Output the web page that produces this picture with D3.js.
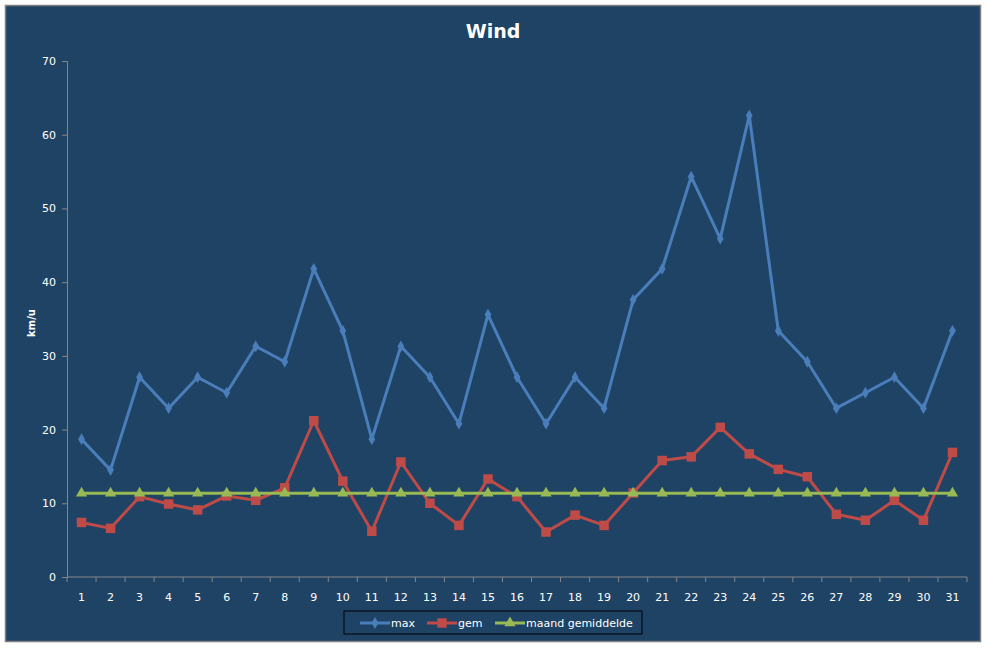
<!DOCTYPE html>
<html>
<head>
<meta charset="utf-8">
<script src="https://cdn.jsdelivr.net/npm/d3@7"></script>
<style>
  body { margin: 0; background: #fff; }
  text { font-family: "DejaVu Sans", Verdana, sans-serif; }
</style>
</head>
<body>
<div id="chart"></div>
<script>
// days of the month
var days = d3.range(1, 32).map(String);
// wind values in km/u
var maxWind = [18.7, 14.5, 27.1, 22.9, 27.1, 25.0, 31.3, 29.2, 41.8, 33.4, 18.7, 31.3, 27.1, 20.8, 35.6, 27.1,
    20.8, 27.1, 22.9, 37.6, 41.8, 54.3, 45.9, 62.6, 33.4, 29.2, 22.9, 25.0, 27.1, 22.9, 33.4];
var gemWind = [7.4, 6.6, 10.9, 9.9, 9.1, 11.0, 10.4, 12.1, 21.2, 13.0, 6.2, 15.6, 10.0, 7.0, 13.3, 10.9,
    6.1, 8.4, 7.0, 11.4, 15.8, 16.3, 20.3, 16.7, 14.6, 13.6, 8.5, 7.7, 10.4, 7.7, 16.9];
var maandGem = days.map(function() { return 11.35; });
var yTicks = [0, 10, 20, 30, 40, 50, 60, 70];

var series = [
    { name: "max", values: maxWind, color: "#4a7ebb", marker: "diamond" },
    { name: "gem", values: gemWind, color: "#be4b48", marker: "square" },
    { name: "maand gemiddelde", values: maandGem, color: "#98b954", marker: "triangle" }
];

var W = 987, H = 648;
var margin = { top: 61, right: 20, bottom: 71, left: 67 },
    width = 900,
    height = H - margin.top - margin.bottom;

var svg = d3.select("#chart").append("svg").attr("width", W).attr("height", H);

// background panel
svg.append("rect").attr("x", 5.5).attr("y", 5.5).attr("width", 975).attr("height", 636)
    .attr("fill", "#1f4365").attr("stroke", "#7f7f7f").attr("stroke-width", 1.5);

svg.append("text").attr("x", 493).attr("y", 38).attr("text-anchor", "middle")
    .attr("fill", "#fff").style("font-size", "19px").style("font-weight", "bold").text("Wind");

svg.append("text").attr("transform", "translate(35,323) rotate(-90)").attr("text-anchor", "middle")
    .attr("fill", "#fff").style("font-size", "10px").style("font-weight", "bold").text("km/u");

var g = svg.append("g").attr("transform", "translate(" + margin.left + "," + margin.top + ")");

var x = d3.scaleBand().domain(days).range([0, width]);
var y = d3.scaleLinear().domain([0, 70]).range([height, 0]);

// y axis
var yAxis = g.append("g").call(d3.axisLeft(y).tickValues(yTicks).tickSize(5).tickPadding(6));
yAxis.select(".domain").attr("stroke", "#868686");
yAxis.selectAll(".tick line").attr("stroke", "#868686");
yAxis.selectAll(".tick text").attr("fill", "#fff").style("font-size", "11px");

// x axis: ticks between categories
var xAxis = g.append("g").attr("transform", "translate(0," + height + ")");
xAxis.append("line").attr("x1", 0).attr("x2", width).attr("stroke", "#868686");
xAxis.selectAll(".tk").data(days.concat(["end"])).enter().append("line")
    .attr("x1", function(d, i) { return i < days.length ? x(d) : width; })
    .attr("x2", function(d, i) { return i < days.length ? x(d) : width; })
    .attr("y1", 0).attr("y2", 5).attr("stroke", "#868686");
xAxis.selectAll(".lbl").data(days).enter().append("text")
    .attr("x", function(d) { return x(d) + x.bandwidth() / 2; })
    .attr("y", 24).attr("text-anchor", "middle").attr("fill", "#fff")
    .style("font-size", "11px").text(function(d) { return d; });

function markerPath(type) {
    if (type === "diamond") return d3.symbol().type(d3.symbolDiamond).size(40)();
    if (type === "square") return d3.symbol().type(d3.symbolSquare).size(90)();
    return d3.symbol().type(d3.symbolTriangle).size(55)();
}

var line = d3.line()
    .x(function(d, i) { return x(days[i]) + x.bandwidth() / 2; })
    .y(function(d) { return y(d); });

// draw in series order so the last one ends on top
series.forEach(function(s) {
    var sg = g.append("g");
    sg.append("path").attr("d", line(s.values)).attr("fill", "none")
        .attr("stroke", s.color).attr("stroke-width", 3).attr("stroke-linejoin", "round");
    sg.selectAll("path.m").data(s.values).enter().append("path").attr("class", "m")
        .attr("transform", function(d, i) {
            return "translate(" + (x(days[i]) + x.bandwidth() / 2) + "," + y(d) + ")";
        })
        .attr("d", markerPath(s.marker)).attr("fill", s.color);
});

// legend
var lg = svg.append("g").attr("transform", "translate(344,611)");
lg.append("rect").attr("width", 298).attr("height", 23).attr("fill", "none").attr("stroke", "#000").attr("stroke-width", 1);
var itemX = [16, 83, 151];
series.forEach(function(s, i) {
    var it = lg.append("g").attr("transform", "translate(" + itemX[i] + ",12)");
    it.append("line").attr("x1", 0).attr("x2", 30).attr("stroke", s.color).attr("stroke-width", 3);
    it.append("path").attr("transform", "translate(15,0)").attr("d", markerPath(s.marker)).attr("fill", s.color);
    it.append("text").attr("x", 31).attr("y", 4).attr("fill", "#fff").style("font-size", "11px").text(s.name);
});
</script>
</body>
</html>
